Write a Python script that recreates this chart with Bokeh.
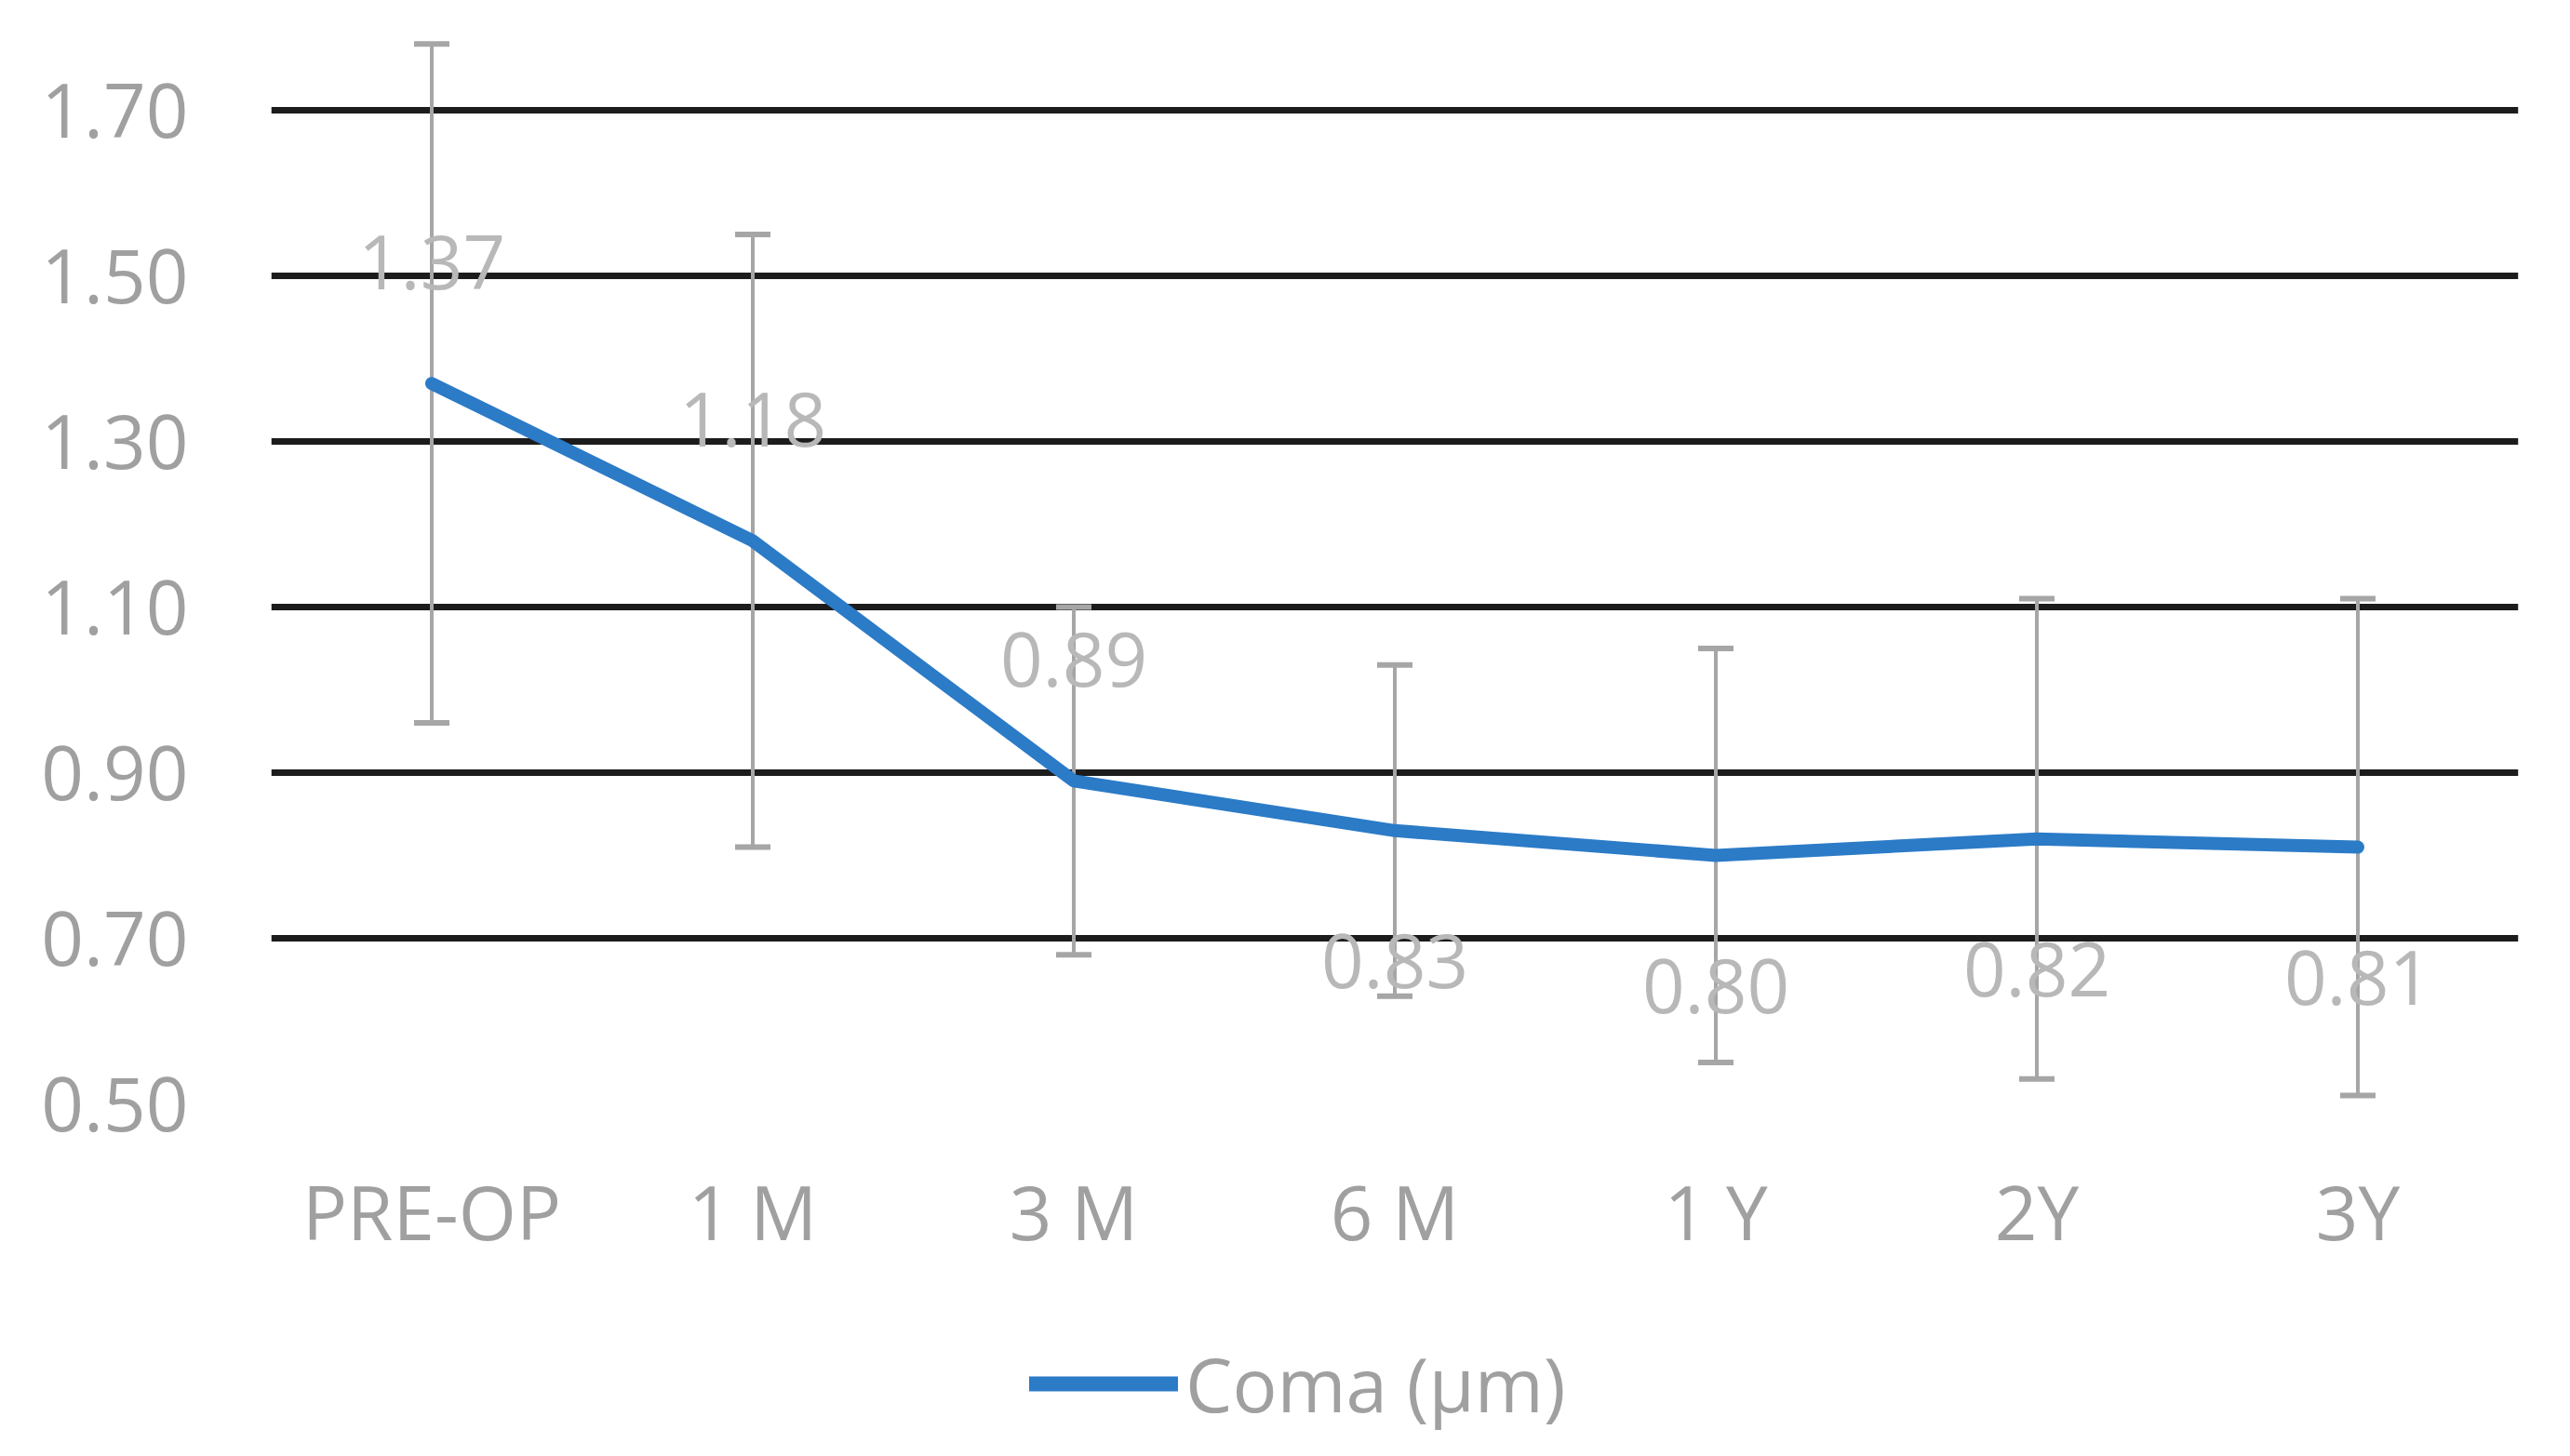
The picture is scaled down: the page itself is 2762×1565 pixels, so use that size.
from bokeh.plotting import figure
from bokeh.layouts import column
from bokeh.models import ColumnDataSource, Whisker, Legend, LegendItem, FixedTicker, NumeralTickFormatter, TeeHead, Range1d
from bokeh.core.properties import value
from bokeh.embed import file_html
from bokeh.resources import INLINE

categories = ["PRE-OP", "1 M", "3 M", "6 M", "1 Y", "2Y", "3Y"]
coma = [1.37, 1.18, 0.89, 0.83, 0.80, 0.82, 0.81]
sd = [0.41, 0.37, 0.21, 0.20, 0.25, 0.29, 0.30]
label_text = ["1.37", "1.18", "0.89", "0.83", "0.80", "0.82", "0.81"]
label_side = ["above", "above", "above", "below", "below", "below", "below"]
y_ticks = [0.50, 0.70, 0.90, 1.10, 1.30, 1.50, 1.70]
legend_label = "Coma (μm)"

FONT = "Open Sans"
LINE_COLOR = "#2b7bc7"
upper = [m + s for m, s in zip(coma, sd)]
lower = [m - s for m, s in zip(coma, sd)]
offs = [-130 if s == "above" else 140 for s in label_side]

src = ColumnDataSource(dict(x=categories, y=coma, upper=upper, lower=lower,
                            lab=label_text, off=offs))

W = 2746
H1 = 1390
H2 = 159

p = figure(x_range=categories, y_range=Range1d(0.5, 1.80),
           width=W, height=H1, output_backend="svg", toolbar_location=None,
           min_border_left=291, min_border_right=40, min_border_top=29, min_border_bottom=204)
p.outline_line_color = None
p.background_fill_color = "white"
p.border_fill_color = "white"
p.x_range.range_padding = 0

p.xgrid.grid_line_color = None
p.ygrid.ticker = FixedTicker(ticks=y_ticks)
p.ygrid.grid_line_color = "#1c1c1c"
p.ygrid.grid_line_width = 7

p.yaxis.ticker = FixedTicker(ticks=y_ticks)
p.yaxis.formatter = NumeralTickFormatter(format="0.00")
for ax in (p.xaxis[0], p.yaxis[0]):
    ax.axis_line_color = None
    ax.major_tick_line_color = None
    ax.minor_tick_line_color = None
    ax.major_label_text_font = FONT
    ax.major_label_text_font_size = "80px"
    ax.major_label_text_color = "#a0a0a0"
p.yaxis.major_label_standoff = 83
p.xaxis.major_label_standoff = 54

wh = Whisker(source=src, base="x", upper="upper", lower="lower",
             line_color="#a6a6a6", line_width=4,
             upper_head=TeeHead(size=38, line_color="#a6a6a6", line_width=6),
             lower_head=TeeHead(size=38, line_color="#a6a6a6", line_width=6))
p.add_layout(wh)

ln = p.line("x", "y", source=src, line_color=LINE_COLOR, line_width=14,
            line_cap="round", line_join="round")

p.text("x", "y", text="lab", source=src, y_offset="off",
       text_font=value(FONT), text_font_size="80px", text_color="#b8b8b8",
       text_align="center", text_baseline="middle")

# legend strip below the chart (its sample line sits outside the visible range)
p2 = figure(width=W, height=H2, x_range=Range1d(0, 1), y_range=Range1d(0, 1),
            x_axis_type=None, y_axis_type=None, output_backend="svg", toolbar_location=None,
            min_border_left=291, min_border_right=40, min_border_top=0, min_border_bottom=0)
p2.outline_line_color = None
p2.grid.visible = False
ln2 = p2.line(x=[-5, -4], y=[-5, -4], line_color=LINE_COLOR, line_width=16, line_cap="round")
legend = Legend(items=[LegendItem(label=legend_label, renderers=[ln2])],
                orientation="horizontal", location=(815, 8),
                label_text_font=FONT, label_text_font_size="80px",
                label_text_color="#a0a0a0", glyph_width=160, glyph_height=60,
                label_standoff=8, border_line_color=None, background_fill_alpha=0,
                margin=0, padding=0)
p2.add_layout(legend, "center")

layout = column(p, p2, spacing=0)
open("out.html", "w").write(file_html(layout, INLINE))
